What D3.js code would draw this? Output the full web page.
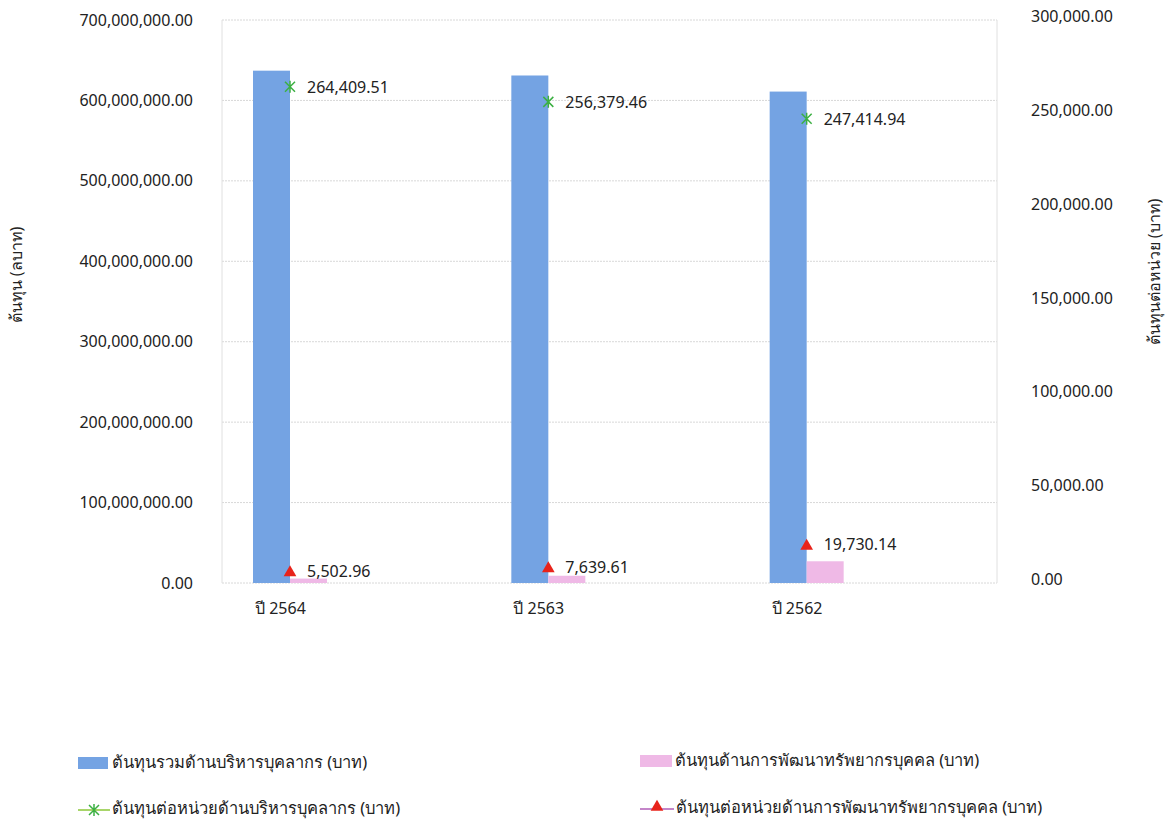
<!DOCTYPE html>
<meta charset="utf-8">
<head>
<style>
body{ margin:0; background:#fff; }
text{ font-family: Tahoma, "Noto Sans", "DejaVu Sans", sans-serif; fill:#222; }
.tick text{ font-size:16px; }
.grid line{ stroke:#d8d8d8; stroke-dasharray:2,1; }
.axisTitle{ font-size:16px; text-anchor:middle; }
.lbl{ font-size:16px; }
.legend text{ font-size:16.5px; }
</style>
</head>
<body>
<script src="https://d3js.org/d3.v7.min.js"></script>
<script>

var years = ["ปี 2564","ปี 2563","ปี 2562"];
var totalCost = [637000000, 631000000, 611000000];
var devCost = [5500000, 9000000, 27000000];
var unitCost = [264409.51, 256379.46, 247414.94];
var unitDevCost = [5502.96, 7639.61, 19730.14];
var leftTicks = [0,100000000,200000000,300000000,400000000,500000000,600000000,700000000];
var rightTicks = [0,50000,100000,150000,200000,250000,300000];
var seriesNames = ["ต้นทุนรวมด้านบริหารบุคลากร (บาท)","ต้นทุนด้านการพัฒนาทรัพยากรบุคคล (บาท)",
	"ต้นทุนต่อหน่วยด้านบริหารบุคลากร (บาท)","ต้นทุนต่อหน่วยด้านการพัฒนาทรัพยากรบุคคล (บาท)"];

var blue = "#74a3e3", pink = "#efb9e6", green = "#3cb043", red = "#e8231b";
var fmt = d3.format(",.2f");

var svg = d3.select("body").append("svg").attr("width",1174).attr("height",828);
var m = {left:222, right:997, top:20, bottom:583};

var x = d3.scaleBand().domain(years).range([m.left,m.right]);
var yL = d3.scaleLinear().domain([0,700000000]).range([m.bottom,m.top]);
var yR = d3.scaleLinear().domain([0,300000]).range([m.bottom,m.top]);
var barW = 37, off = 31;

// grid
svg.append("g").attr("class","grid").selectAll("line").data(leftTicks).join("line")
	.attr("x1",m.left).attr("x2",m.right).attr("y1",d=>yL(d)).attr("y2",d=>yL(d));
svg.append("line").attr("x1",m.left).attr("x2",m.left).attr("y1",m.top).attr("y2",m.bottom).attr("stroke","#e0e0e0");
svg.append("line").attr("x1",m.right).attr("x2",m.right).attr("y1",m.top).attr("y2",m.bottom).attr("stroke","#e0e0e0");

// axes
var gl = svg.append("g").attr("transform","translate("+(m.left-26)+",0)")
	.call(d3.axisLeft(yL).tickValues(leftTicks).tickFormat(fmt).tickSize(0));
var gr = svg.append("g").attr("transform","translate("+(m.right+31)+",0)")
	.call(d3.axisRight(yR).tickValues(rightTicks).tickFormat(fmt).tickSize(0));
[gl,gr].forEach(g=>g.select(".domain").remove());
gr.selectAll(".tick text").attr("dy","0.1em");

var gx = svg.append("g").attr("transform","translate(0,"+(m.bottom+12)+")")
	.call(d3.axisBottom(x).tickSize(0));
gx.select(".domain").remove();
gx.selectAll(".tick text").attr("text-anchor","start").attr("x",-x.bandwidth()/2+off+2).attr("dy","1em");

svg.append("text").attr("class","axisTitle")
	.attr("transform","translate(22,275) rotate(-90)").text("ต้นทุน (ลบาท)");
svg.append("text").attr("class","axisTitle")
	.attr("transform","translate(1160,272) rotate(-90)").text("ต้นทุนต่อหน่วย (บาท)");

// bars
svg.append("g").selectAll("rect").data(years).join("rect")
	.attr("x",d=>x(d)+off).attr("width",barW)
	.attr("y",(d,i)=>yL(totalCost[i])).attr("height",(d,i)=>yL(0)-yL(totalCost[i]))
	.attr("fill",blue);
svg.append("g").selectAll("rect").data(years).join("rect")
	.attr("x",d=>x(d)+off+barW).attr("width",barW)
	.attr("y",(d,i)=>yL(devCost[i])).attr("height",(d,i)=>yL(0)-yL(devCost[i]))
	.attr("fill",pink);

// markers
var cx = d=>x(d)+off+barW;
var starPath = "M-5,-5L5,5M-5,5L5,-5M0,-6L0,6";
svg.append("g").selectAll("path").data(years).join("path")
	.attr("d",starPath).attr("stroke",green).attr("stroke-width",1.5)
	.attr("transform",(d,i)=>"translate("+cx(d)+","+yR(unitCost[i])+")");
svg.append("g").selectAll("text").data(years).join("text").attr("class","lbl")
	.attr("x",d=>cx(d)+17).attr("y",(d,i)=>yR(unitCost[i])+6).text((d,i)=>fmt(unitCost[i]));

var tri = d3.symbol().type(d3.symbolTriangle).size(70);
svg.append("g").selectAll("path").data(years).join("path")
	.attr("d",tri).attr("fill",red)
	.attr("transform",(d,i)=>"translate("+cx(d)+","+yR(unitDevCost[i])+")");
svg.append("g").selectAll("text").data(years).join("text").attr("class","lbl")
	.attr("x",d=>cx(d)+17).attr("y",(d,i)=>yR(unitDevCost[i])+4).text((d,i)=>fmt(unitDevCost[i]));

// legend
var lg = svg.append("g").attr("class","legend");
lg.append("rect").attr("x",78).attr("y",757).attr("width",30).attr("height",12).attr("fill",blue);
lg.append("text").attr("x",112).attr("y",768).text(seriesNames[0]);
lg.append("rect").attr("x",640).attr("y",755).attr("width",32).attr("height",12).attr("fill",pink);
lg.append("text").attr("x",675).attr("y",766).text(seriesNames[1]);
lg.append("line").attr("x1",78).attr("x2",110).attr("y1",810).attr("y2",810).attr("stroke","#a8d56a").attr("stroke-width",2);
lg.append("path").attr("d",starPath).attr("stroke",green).attr("stroke-width",1.5)
	.attr("transform","translate(94,810)");
lg.append("text").attr("x",112).attr("y",814).text(seriesNames[2]);
lg.append("line").attr("x1",640).attr("x2",674).attr("y1",809).attr("y2",809).attr("stroke","#c486c9").attr("stroke-width",2);
lg.append("path").attr("d",tri).attr("fill",red).attr("transform","translate(657,807)");
lg.append("text").attr("x",676).attr("y",813).text(seriesNames[3]);
</script>
</body>
</html>
